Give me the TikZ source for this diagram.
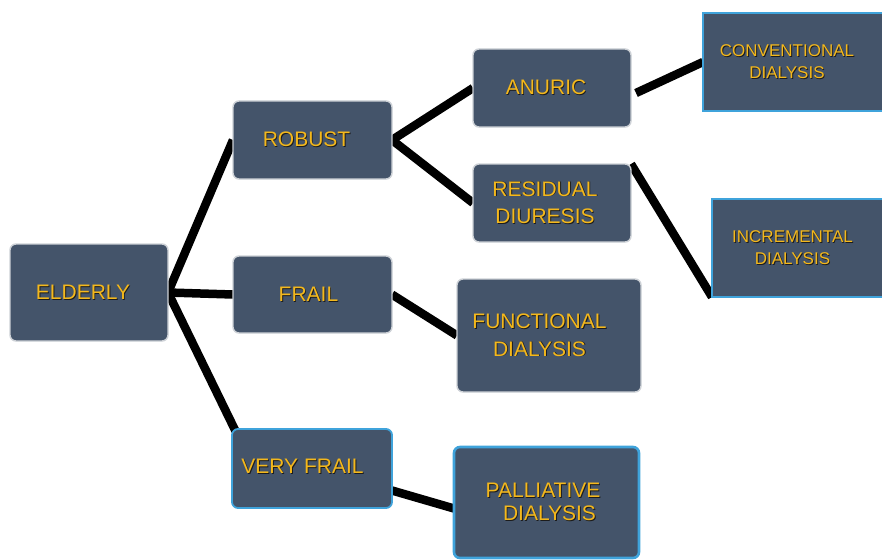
\documentclass[tikz,border=0pt]{standalone}
\usepackage{fontspec}
\setmainfont{Liberation Sans}
\usetikzlibrary{backgrounds}

\definecolor{boxfill}{HTML}{44546A}
\definecolor{boxgray}{HTML}{CDD1D6}
\definecolor{boxblue}{HTML}{3FA3DB}
\definecolor{txtgold}{HTML}{F4B81C}
\definecolor{txtshadow}{HTML}{1C1C1C}

% text with a small dark drop shadow
\newcommand\shd[1]{\rlap{\kern0.9pt\raisebox{-0.9pt}{\color{txtshadow}#1}}#1}

\tikzset{
  box/.style={draw=boxgray, line width=1.4pt, fill=boxfill, rounded corners=6pt,
              inner sep=0pt, outer sep=0pt},
  bluebox/.style={box, draw=boxblue, line width=1.8pt},
  squarebox/.style={box, draw=boxblue, line width=1.6pt, sharp corners},
  lbl/.style={text=txtgold, align=center, inner sep=0pt,
              font=\fontsize{21}{27.5}\selectfont},
  smalllbl/.style={lbl, font=\fontsize{17}{21.5}\selectfont},
  link/.style={line width=8.5pt, line cap=butt, black},
}

\begin{document}
\begin{tikzpicture}[x=1pt, y=-1pt]
\useasboundingbox (0,0) rectangle (882,559);

% first column
\node[box, minimum width=158pt, minimum height=97pt,
      label={[lbl, xshift=-6pt]center:\shd{ELDERLY}}] (elderly) at (89,292.5) {};

% second column
\node[box, minimum width=159pt, minimum height=78pt,
      label={[lbl, xshift=-6pt]center:\shd{ROBUST}}] (robust) at (312.5,140) {};
\node[box, minimum width=159pt, minimum height=77pt,
      label={[lbl, xshift=-4pt]center:\shd{FRAIL}}] (frail) at (312.5,294.5) {};
\node[bluebox, minimum width=160pt, minimum height=79pt,
      label={[lbl, xshift=-9.5pt, yshift=1.5pt]center:\shd{VERY FRAIL}}] (veryfrail) at (312,468.5) {};

% third column
\node[box, minimum width=158pt, minimum height=78pt,
      label={[lbl, xshift=-6pt]center:\shd{ANURIC}}] (anuric) at (552,88) {};
\node[box, minimum width=158pt, minimum height=78pt,
      label={[lbl, xshift=-7pt]center:\shd{RESIDUAL}\\\shd{DIURESIS}}] (residual) at (552,203) {};
\node[box, minimum width=184pt, minimum height=113pt,
      label={[lbl, xshift=-9.5pt]center:\shd{FUNCTIONAL}\\\shd{DIALYSIS}}] (functional) at (549,335.5) {};
\node[bluebox, line width=2.6pt, minimum width=185pt, minimum height=111pt,
      label={[lbl, xshift=-3.5pt, font=\fontsize{21}{22.5}\selectfont]center:\shd{PALLIATIVE}\\\hspace*{13pt}\shd{DIALYSIS}}] (palliative) at (546.5,502.5) {};

% fourth column
\node[squarebox, minimum width=182pt, minimum height=98pt,
      label={[smalllbl, xshift=-7pt]center:\shd{CONVENTIONAL}\\\shd{DIALYSIS}}] (conventional) at (794,62) {};
\node[squarebox, minimum width=173pt, minimum height=98pt,
      label={[smalllbl, xshift=-6pt]center:\shd{INCREMENTAL}\\\shd{DIALYSIS}}] (incremental) at (798.5,248) {};

% connectors
\begin{pgfonlayer}{background}
\draw[link] (elderly.east) -- (robust.west);
\draw[link] (elderly.east) -- (frail.west);
\draw[link] (elderly.east) -- ([xshift=4pt, yshift=-3pt]veryfrail.north west);
\draw[link] (robust.east) -- (anuric.west);
\draw[link] (robust.east) -- (residual.west);
\draw[link] ([xshift=5pt, yshift=-5pt]anuric.east) -- (conventional.west);
\draw[link] (residual.north east) -- (incremental.south west);
\draw[link] (frail.east) -- (functional.west);
\draw[link] ([yshift=-22pt]veryfrail.east) -- ([yshift=-6pt]palliative.west);
\end{pgfonlayer}
\end{tikzpicture}
\end{document}
